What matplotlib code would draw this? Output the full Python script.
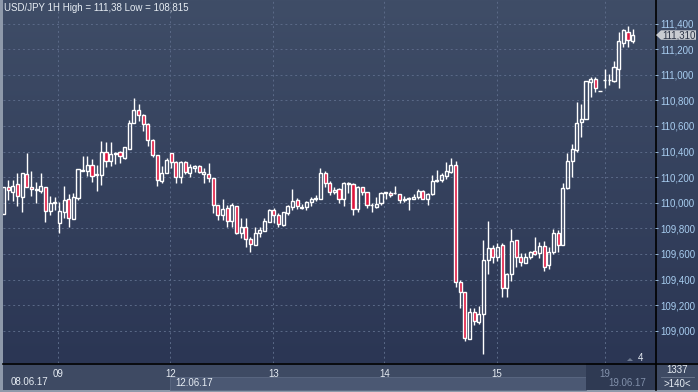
import numpy as np
import matplotlib
matplotlib.use("Agg")
import matplotlib.pyplot as plt
from matplotlib.patches import Rectangle, Polygon
import matplotlib.transforms as mtransforms

plt.rcParams['font.family'] = ['Liberation Sans', 'DejaVu Sans']

# hourly USD/JPY candles, 08.06.17 - 19.06.17
opens = [109.912, 110.120, 110.086, 110.144, 110.047, 110.222, 110.120, 110.099, 110.094, 110.120,
         109.938, 109.995, 109.844, 109.930, 110.026, 109.875, 110.034, 110.258, 110.245, 110.292,
         110.214, 110.219, 110.396, 110.323, 110.380, 110.396, 110.347, 110.422, 110.620, 110.724,
         110.685, 110.615, 110.487, 110.370, 110.172, 110.232, 110.386, 110.318, 110.198, 110.318,
         110.229, 110.274, 110.284, 110.222, 110.222, 110.190, 109.979, 109.901, 109.956, 109.854,
         109.974, 109.766, 109.808, 109.714, 109.670, 109.761, 109.781, 109.852, 109.943, 109.904,
         109.823, 109.922, 109.969, 110.021, 109.969, 109.964, 110.008, 110.026, 110.026, 110.229,
         110.151, 110.081, 110.104, 110.031, 110.144, 110.144, 109.953, 110.120, 110.081, 109.979,
         109.969, 109.995, 110.073, 110.078, 110.073, 110.065, 110.021, 110.029, 110.031, 110.042,
         110.094, 110.026, 110.065, 110.170, 110.177, 110.211, 110.242, 110.292, 109.378, 109.300,
         108.938, 109.144, 109.071, 109.128, 109.550, 109.644, 109.573, 109.667, 109.336, 109.440,
         109.706, 109.573, 109.531, 109.573, 109.620, 109.604, 109.659, 109.511, 109.617, 109.761,
         109.672, 110.112, 110.323, 110.412, 110.630, 110.652, 110.945, 110.964, 110.873, 110.958,
         110.958, 110.951, 111.047, 111.250, 111.336, 111.266]
highs = [110.120, 110.177, 110.177, 110.235, 110.229, 110.386, 110.248, 110.164, 110.229, 110.120,
         110.052, 110.047, 110.008, 110.133, 110.068, 110.073, 110.263, 110.365, 110.365, 110.339,
         110.295, 110.482, 110.472, 110.472, 110.399, 110.406, 110.433, 110.646, 110.821, 110.769,
         110.690, 110.620, 110.495, 110.370, 110.287, 110.347, 110.386, 110.328, 110.326, 110.323,
         110.302, 110.295, 110.292, 110.270, 110.310, 110.190, 109.979, 110.029, 109.982, 109.995,
         109.974, 109.878, 109.878, 109.729, 109.808, 109.808, 109.878, 109.948, 109.956, 109.922,
         109.925, 109.982, 110.104, 110.034, 109.990, 110.013, 110.042, 110.060, 110.269, 110.250,
         110.170, 110.125, 110.112, 110.162, 110.162, 110.151, 110.130, 110.125, 110.086, 109.995,
         110.042, 110.081, 110.086, 110.091, 110.130, 110.068, 110.052, 110.047, 110.068, 110.107,
         110.099, 110.073, 110.216, 110.255, 110.229, 110.315, 110.347, 110.326, 109.396, 109.305,
         109.175, 109.175, 109.193, 109.709, 109.857, 109.670, 109.683, 109.683, 109.453, 109.797,
         109.706, 109.604, 109.604, 109.623, 109.729, 109.693, 109.701, 109.651, 109.797, 109.787,
         110.151, 110.386, 110.459, 110.789, 110.771, 110.951, 110.980, 110.980, 110.873, 111.045,
         111.003, 111.105, 111.331, 111.357, 111.380, 111.357]
lows = [109.912, 110.021, 110.013, 109.974, 109.930, 110.120, 110.052, 109.995, 110.073, 109.852,
        109.904, 109.943, 109.766, 109.878, 109.813, 109.870, 110.021, 110.245, 110.211, 110.164,
        110.094, 110.138, 110.281, 110.287, 110.302, 110.308, 110.341, 110.422, 110.620, 110.638,
        110.563, 110.443, 110.360, 110.133, 110.151, 110.229, 110.274, 110.156, 110.156, 110.224,
        110.203, 110.242, 110.229, 110.156, 110.160, 109.922, 109.865, 109.865, 109.813, 109.808,
        109.755, 109.722, 109.651, 109.617, 109.670, 109.735, 109.781, 109.847, 109.844, 109.813,
        109.821, 109.904, 109.943, 109.948, 109.948, 109.943, 109.974, 110.013, 110.026, 110.125,
        110.060, 110.068, 110.000, 109.977, 110.078, 109.906, 109.930, 110.060, 109.956, 109.925,
        109.961, 109.982, 110.026, 110.047, 110.065, 110.000, 110.005, 109.943, 110.026, 110.029,
        110.026, 109.982, 110.060, 110.164, 110.162, 110.185, 110.235, 109.344, 109.180, 108.922,
        108.933, 109.045, 109.052, 108.815, 109.443, 109.531, 109.547, 109.266, 109.266, 109.391,
        109.495, 109.505, 109.531, 109.560, 109.591, 109.565, 109.469, 109.485, 109.602, 109.617,
        109.672, 110.110, 110.198, 110.396, 110.516, 110.652, 110.828, 110.867, 110.873, 110.894,
        110.920, 110.945, 110.898, 111.219, 111.219, 111.245]
closes = [110.120, 110.099, 110.133, 110.052, 110.229, 110.120, 110.104, 110.107, 110.128, 109.938,
          109.995, 110.008, 109.933, 110.019, 109.878, 110.042, 110.263, 110.245, 110.292, 110.209,
          110.222, 110.396, 110.323, 110.378, 110.388, 110.362, 110.433, 110.623, 110.724, 110.685,
          110.612, 110.487, 110.370, 110.175, 110.232, 110.334, 110.315, 110.198, 110.318, 110.237,
          110.276, 110.284, 110.237, 110.240, 110.190, 109.979, 109.901, 109.948, 109.854, 109.979,
          109.766, 109.808, 109.714, 109.677, 109.761, 109.787, 109.854, 109.943, 109.904, 109.831,
          109.925, 109.974, 110.013, 109.974, 109.961, 110.005, 110.026, 110.034, 110.229, 110.151,
          110.081, 110.102, 110.031, 110.151, 110.151, 109.953, 110.123, 110.081, 109.979, 109.982,
          109.990, 110.073, 110.081, 110.060, 110.078, 110.021, 110.029, 110.034, 110.047, 110.091,
          110.031, 110.065, 110.172, 110.177, 110.216, 110.248, 110.292, 109.378, 109.300, 108.940,
          109.144, 109.078, 109.128, 109.550, 109.644, 109.573, 109.656, 109.336, 109.440, 109.698,
          109.578, 109.537, 109.573, 109.612, 109.597, 109.659, 109.500, 109.617, 109.761, 109.670,
          110.112, 110.323, 110.417, 110.620, 110.654, 110.951, 110.966, 110.894, 110.873, 110.962,
          110.960, 111.058, 111.261, 111.347, 111.271, 111.310]

day_labels = ['09', '12', '13', '14', '15', '19']
day_pos = [11.7, 35.8, 57.9, 81.7, 105.9, 129.1]
yticks = [109.0, 109.2, 109.4, 109.6, 109.8, 110.0, 110.2, 110.4, 110.6, 110.8, 111.0, 111.2, 111.4]
last_price = 111.310

W, H = 698, 392
def fx(x):
    return x / W
def fy(y):
    return 1 - y / H

fig = plt.figure(figsize=(W / 100, H / 100), dpi=100)
fig.patch.set_facecolor('#8e99aa')

# background: gradient for plot + right scale, then the time band
bg = fig.add_axes([0, 0, 1, 1], zorder=0)
bg.set_axis_off()
bg.set_xlim(0, W)
bg.set_ylim(H, 0)
top_c = np.array([63, 77, 103]) / 255
bot_c = np.array([43, 54, 84]) / 255
t = np.linspace(0, 1, 256)[:, None, None]
grad = top_c * (1 - t) + bot_c * t
bg.imshow(np.repeat(grad, 2, axis=1), aspect='auto', extent=[3, W, 363, 0], zorder=0)
bg.add_patch(Rectangle((3, 363), W - 3, 27, facecolor='#3e4a63', edgecolor='none', zorder=1))
bg.add_patch(Rectangle((170, 377), 416, 13, facecolor='#4b5873', edgecolor='#5d6a84',
                       linewidth=0.6, zorder=2))
bg.add_patch(Rectangle((586, 363), 69, 27, facecolor='#2f3a53', edgecolor='none', zorder=2))
bg.plot([3, W], [363.5, 363.5], color='black', linewidth=1.2, zorder=3)
bg.plot([655.5, 655.5], [0, 390], color='black', linewidth=1.2, zorder=3)
bg.plot([661, 694], [377, 377], color='#6e7a90', linewidth=0.6, zorder=3)
bg.add_patch(Polygon([(627, 361), (633, 361), (630, 358)], closed=True,
                     facecolor='#6e7a90', edgecolor='none', zorder=3))
bg.set_xlim(0, W)
bg.set_ylim(H, 0)

ax = fig.add_axes([fx(3), fy(363), fx(652), 362 / H], zorder=5)
ax.set_facecolor('none')
for s in ax.spines.values():
    s.set_visible(False)

o = np.array(opens)
h = np.array(highs)
l = np.array(lows)
c = np.array(closes)
idx = np.arange(len(o))
up = c >= o
body_lo = np.minimum(o, c)
body_hi = np.maximum(o, c)
body_h = np.maximum(body_hi - body_lo, 0.002)

ax.vlines(idx, body_hi, h, color='white', linewidth=1.0, zorder=3)
ax.vlines(idx, l, body_lo, color='white', linewidth=1.0, zorder=3)
ax.bar(idx[up], body_h[up], bottom=body_lo[up], width=0.66, facecolor='none',
       edgecolor='white', linewidth=1.0, zorder=4)
ax.bar(idx[~up], body_h[~up], bottom=body_lo[~up], width=0.66, facecolor='#e0153d',
       edgecolor='white', linewidth=1.0, zorder=4)

ax.set_xlim(-0.1, 139.8)
ax.set_ylim(108.748, 111.576)

ax.set_yticks(yticks)
ax.set_yticklabels([f"{v:.3f}".replace('.', ',') for v in yticks])
ax.yaxis.tick_right()
ax.tick_params(axis='y', colors='#a8cdf0', labelsize=7, length=2, width=0.6, pad=2)
ax.set_xticks(day_pos)
ax.set_xticklabels(day_labels)
ax.tick_params(axis='x', colors='#e6ecf3', labelsize=7, length=0, pad=4)
ax.get_xticklabels()[-1].set_color('#8190aa')
ax.grid(True, color='#5b6a88', linestyle=(0, (2, 3)), linewidth=0.7)
ax.set_axisbelow(True)

# header and annotations
fig.text(fx(4), fy(8), 'USD/JPY 1H High = 111,38 Low = 108,815', color='#e6ecf3',
         fontsize=7, va='center', ha='left', zorder=6)
fig.text(fx(11), fy(382), '08.06.17', color='#e6ecf3', fontsize=7, va='center', ha='left', zorder=6)
fig.text(fx(175), fy(383), '12.06.17', color='#e6ecf3', fontsize=7, va='center', ha='left', zorder=6)
fig.text(fx(608), fy(383), '19.06.17', color='#8190aa', fontsize=7, va='center', ha='left', zorder=6)
fig.text(fx(677), fy(370), '1337', color='#e6ecf3', fontsize=7, va='center', ha='center', zorder=6)
fig.text(fx(677), fy(384), '>140<', color='#e6ecf3', fontsize=7, va='center', ha='center', zorder=6)
fig.text(fx(640), fy(358), '4', color='#e6ecf3', fontsize=7, va='center', ha='center', zorder=6)

# last price tag on the scale
tr = mtransforms.blended_transform_factory(fig.transFigure, ax.transData)
dy = 0.037
ax.add_patch(Polygon([(fx(656), last_price), (fx(661), last_price + dy), (fx(696), last_price + dy),
                      (fx(696), last_price - dy), (fx(661), last_price - dy)],
                     closed=True, transform=tr, facecolor='#c9ccd1', edgecolor='none',
                     clip_on=False, zorder=6))
ax.text(fx(662), last_price, f"{last_price:.3f}".replace('.', ','), transform=tr, color='#2b3345',
        fontsize=7, va='center', ha='left', zorder=7, clip_on=False)

fig.savefig('out.png', dpi=100, facecolor=fig.get_facecolor())
